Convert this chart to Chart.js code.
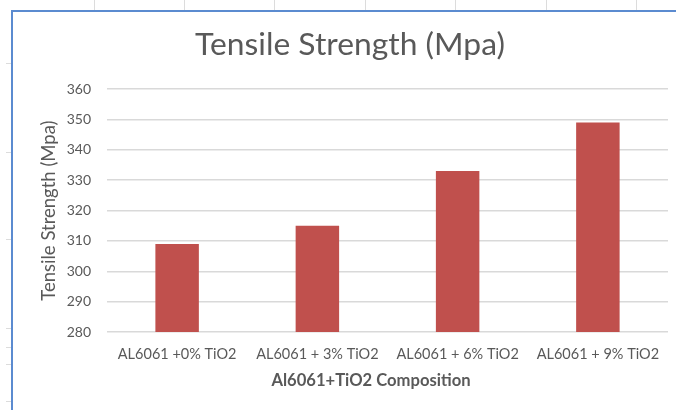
<!DOCTYPE html>
<html>
<head>
<meta charset="utf-8">
<script src="https://cdn.jsdelivr.net/npm/chart.js@4/dist/chart.umd.min.js"></script>
<style>
  html, body { margin: 0; padding: 0; background: #fff; }
  #wrap { width: 676px; height: 410px; position: relative; }
</style>
</head>
<body>
<div id="wrap"><canvas id="c" width="676" height="410"></canvas></div>
<script>
const categories = ['AL6061 +0% TiO2', 'AL6061 + 3% TiO2', 'AL6061 + 6% TiO2', 'AL6061 + 9% TiO2'];
const tensileStrength = [309, 315, 333, 349];
const yTicks = [280, 290, 300, 310, 320, 330, 340, 350, 360];
const xAxisTitle = 'Al6061+TiO2 Composition';

const FONT = 'Lato, "Open Sans", sans-serif';
const TEXT = '#595959';

// Worksheet cell lines and the blue frame around the embedded chart
const sheetFrame = {
  id: 'sheetFrame',
  beforeDraw(chart) {
    const ctx = chart.ctx;
    ctx.save();
    ctx.fillStyle = '#fff';
    ctx.fillRect(0, 0, chart.width, chart.height);
    ctx.strokeStyle = '#dcdcdc';
    ctx.lineWidth = 1;
    [94, 184, 274, 365, 455, 546, 636].forEach(x => {
      ctx.beginPath(); ctx.moveTo(x + 0.5, 0); ctx.lineTo(x + 0.5, 10); ctx.stroke();
    });
    [63, 152, 239, 328, 347, 364, 401].forEach(y => {
      ctx.beginPath(); ctx.moveTo(6, y + 0.5); ctx.lineTo(11, y + 0.5); ctx.stroke();
    });
    ctx.strokeStyle = '#5b8bd0';
    ctx.lineWidth = 2;
    ctx.beginPath();
    ctx.moveTo(12, chart.height);
    ctx.lineTo(12, 11);
    ctx.lineTo(chart.width, 11);
    ctx.stroke();
    ctx.restore();
  },
  // category axis title, centred under the whole chart frame
  afterDraw(chart) {
    const ctx = chart.ctx;
    ctx.save();
    ctx.fillStyle = TEXT;
    ctx.font = 'bold 16.6px ' + FONT;
    ctx.textAlign = 'center';
    ctx.textBaseline = 'middle';
    ctx.fillText(xAxisTitle, 371, 381);
    ctx.restore();
  }
};

new Chart(document.getElementById('c'), {
  type: 'bar',
  data: {
    labels: categories,
    datasets: [{
      label: 'Tensile Strength (Mpa)',
      data: tensileStrength,
      backgroundColor: '#c0504d',
      borderWidth: 0,
      categoryPercentage: 1,
      barPercentage: 0.31
    }]
  },
  options: {
    responsive: false,
    animation: false,
    devicePixelRatio: 1,
    layout: { padding: { left: 32, right: 8, top: 12, bottom: 14 } },
    plugins: {
      legend: { display: false },
      tooltip: { enabled: false },
      title: {
        display: true,
        text: 'Tensile Strength (Mpa)',
        color: TEXT,
        font: { family: FONT, size: 31.8, weight: 'normal' },
        padding: { top: 14, bottom: 25 }
      }
    },
    scales: {
      x: {
        afterFit(scale) { scale.height = 64; },
        grid: { display: false, drawTicks: false },
        border: { display: false },
        ticks: {
          color: TEXT,
          font: { family: FONT, size: 14.5 },
          padding: 13.5,
          maxRotation: 0,
          autoSkip: false
        }
      },
      y: {
        min: 280,
        max: 360,
        afterBuildTicks(scale) {
          scale.ticks = yTicks.map(v => ({ value: v }));
        },
        afterFit(scale) { scale.width = 75; },
        grid: { color: '#d9d9d9', lineWidth: 1.5, drawTicks: false },
        border: { display: false },
        ticks: {
          color: TEXT,
          font: { family: FONT, size: 14 },
          padding: 16
        },
        title: {
          display: true,
          text: 'Tensile Strength (Mpa)',
          color: TEXT,
          font: { family: FONT, size: 18.5, weight: 'normal' },
          padding: { top: 6, bottom: 4 }
        }
      }
    }
  },
  plugins: [sheetFrame]
});
</script>
</body>
</html>
